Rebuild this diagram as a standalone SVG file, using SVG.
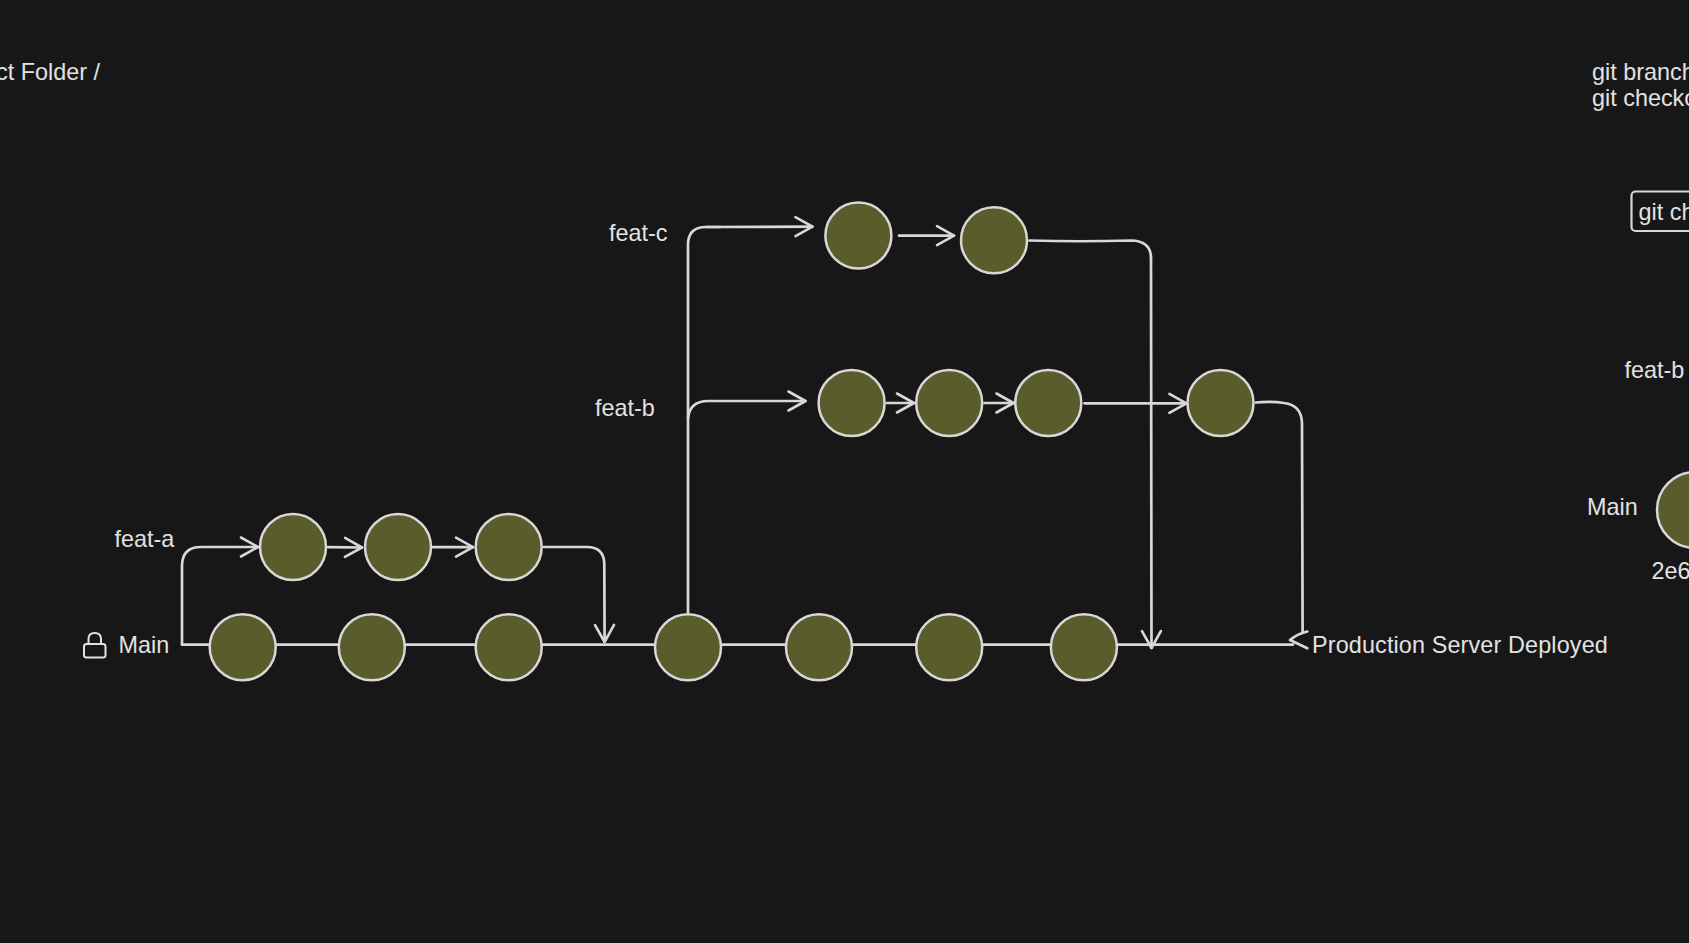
<svg xmlns="http://www.w3.org/2000/svg" width="1689" height="943" viewBox="0 0 1689 943">
<style>
.bg{fill:#171717}
.n{fill:#5a5c2b;stroke:#d8d8d8;stroke-width:2.5}
.c{fill:none;stroke:#d8d8d8;stroke-width:2.7;stroke-linecap:round;stroke-linejoin:round}
.a{marker-end:url(#h)}
text{font-family:"Liberation Sans",Arial,sans-serif;font-size:23.4px;fill:#e2e2e2}
</style>
<defs>
<marker id="h" markerUnits="userSpaceOnUse" markerWidth="24" markerHeight="26" viewBox="-20 -13 24 26" refX="0" refY="0" orient="auto" overflow="visible">
<path d="M-17,-9.5 L0,0 L-17,9.5" fill="none" stroke="#d8d8d8" stroke-width="2.6" stroke-linecap="round" stroke-linejoin="round"/>
</marker>
</defs>
<rect class="bg" width="1689" height="943"/>
<g id="connectors">
<path class="c" d="M182,644.6H1293"/>
<path class="c a" d="M182,644.6V566Q182,547 201,547H258"/>
<path class="c a" d="M328,547.2L362,547.5"/>
<path class="c a" d="M433,547.2H473"/>
<path class="c a" d="M544,547H587Q604,547 604.3,564L604.6,642"/>
<path class="c" d="M688,613V245Q688,227 706,227L720,227"/>
<path class="c a" d="M706,227L812.5,226.6"/>
<path class="c a" d="M688,418Q690,401 708,401H805.5"/>
<path class="c a" d="M899,235.7H954"/>
<path class="c" d="M1029.5,240.5Q1080,242 1131,240.5Q1151,241 1151,258"/>
<path class="c a" d="M1151,258L1151.5,648"/>
<path class="c a" d="M887,403H914"/>
<path class="c a" d="M984.5,403H1013.5"/>
<path class="c a" d="M1084.5,403.3H1186.4"/>
<path class="c" d="M1256,402.5Q1270,401 1284,403Q1302,405 1302,424L1302.6,632"/>
<path class="c" d="M1307.3,631.5Q1297,634 1290,640L1307.3,648.3"/>
</g>
<g id="node-a1"><circle class="n" cx="293" cy="547" r="33"/></g>
<g id="node-a2"><circle class="n" cx="398" cy="547" r="33"/></g>
<g id="node-a3"><circle class="n" cx="508.7" cy="547" r="33"/></g>
<g id="node-m1"><circle class="n" cx="242.7" cy="647.2" r="33"/></g>
<g id="node-m2"><circle class="n" cx="371.8" cy="647.2" r="33"/></g>
<g id="node-m3"><circle class="n" cx="508.7" cy="647.2" r="33"/></g>
<g id="node-m4"><circle class="n" cx="688" cy="647.2" r="33"/></g>
<g id="node-m5"><circle class="n" cx="819" cy="647.2" r="33"/></g>
<g id="node-m6"><circle class="n" cx="949.2" cy="647.2" r="33"/></g>
<g id="node-m7"><circle class="n" cx="1083.9" cy="647.2" r="33"/></g>
<g id="node-b1"><circle class="n" cx="851.6" cy="403" r="33"/></g>
<g id="node-b2"><circle class="n" cx="949.2" cy="403" r="33"/></g>
<g id="node-b3"><circle class="n" cx="1048.3" cy="403" r="33"/></g>
<g id="node-b4"><circle class="n" cx="1220.5" cy="403" r="33"/></g>
<g id="node-c1"><circle class="n" cx="858.4" cy="235.6" r="33"/></g>
<g id="node-c2"><circle class="n" cx="994" cy="240.2" r="33"/></g>
<g id="node-right"><circle class="n" cx="1695" cy="510" r="38"/></g>
<g id="lock" fill="none" stroke="#e2e2e2" stroke-width="2">
<rect x="84" y="644" width="21.5" height="13.5" rx="2.5"/>
<path d="M88.5,644V639Q88.5,633 94.7,633Q101,633 101,639V644"/>
</g>
<g id="labels">
<text x="100" y="79.5" text-anchor="end">ct Folder /</text>
<text x="1592" y="80">git branch</text>
<text x="1592" y="106">git checko</text>
<g id="box-git"><rect x="1631.5" y="191.5" width="70" height="39.5" rx="4" fill="none" stroke="#d8d8d8" stroke-width="2.2"/><text x="1638.5" y="220">git ch</text></g>
<text x="609" y="241">feat-c</text>
<text x="595" y="416">feat-b</text>
<text x="114.5" y="547">feat-a</text>
<text x="118.5" y="653">Main</text>
<text x="1312" y="652.6" style="letter-spacing:.13px">Production Server Deployed</text>
<text x="1624.5" y="378">feat-b</text>
<text x="1587" y="515">Main</text>
<text x="1651.5" y="578.5">2e6</text>
</g>
</svg>
